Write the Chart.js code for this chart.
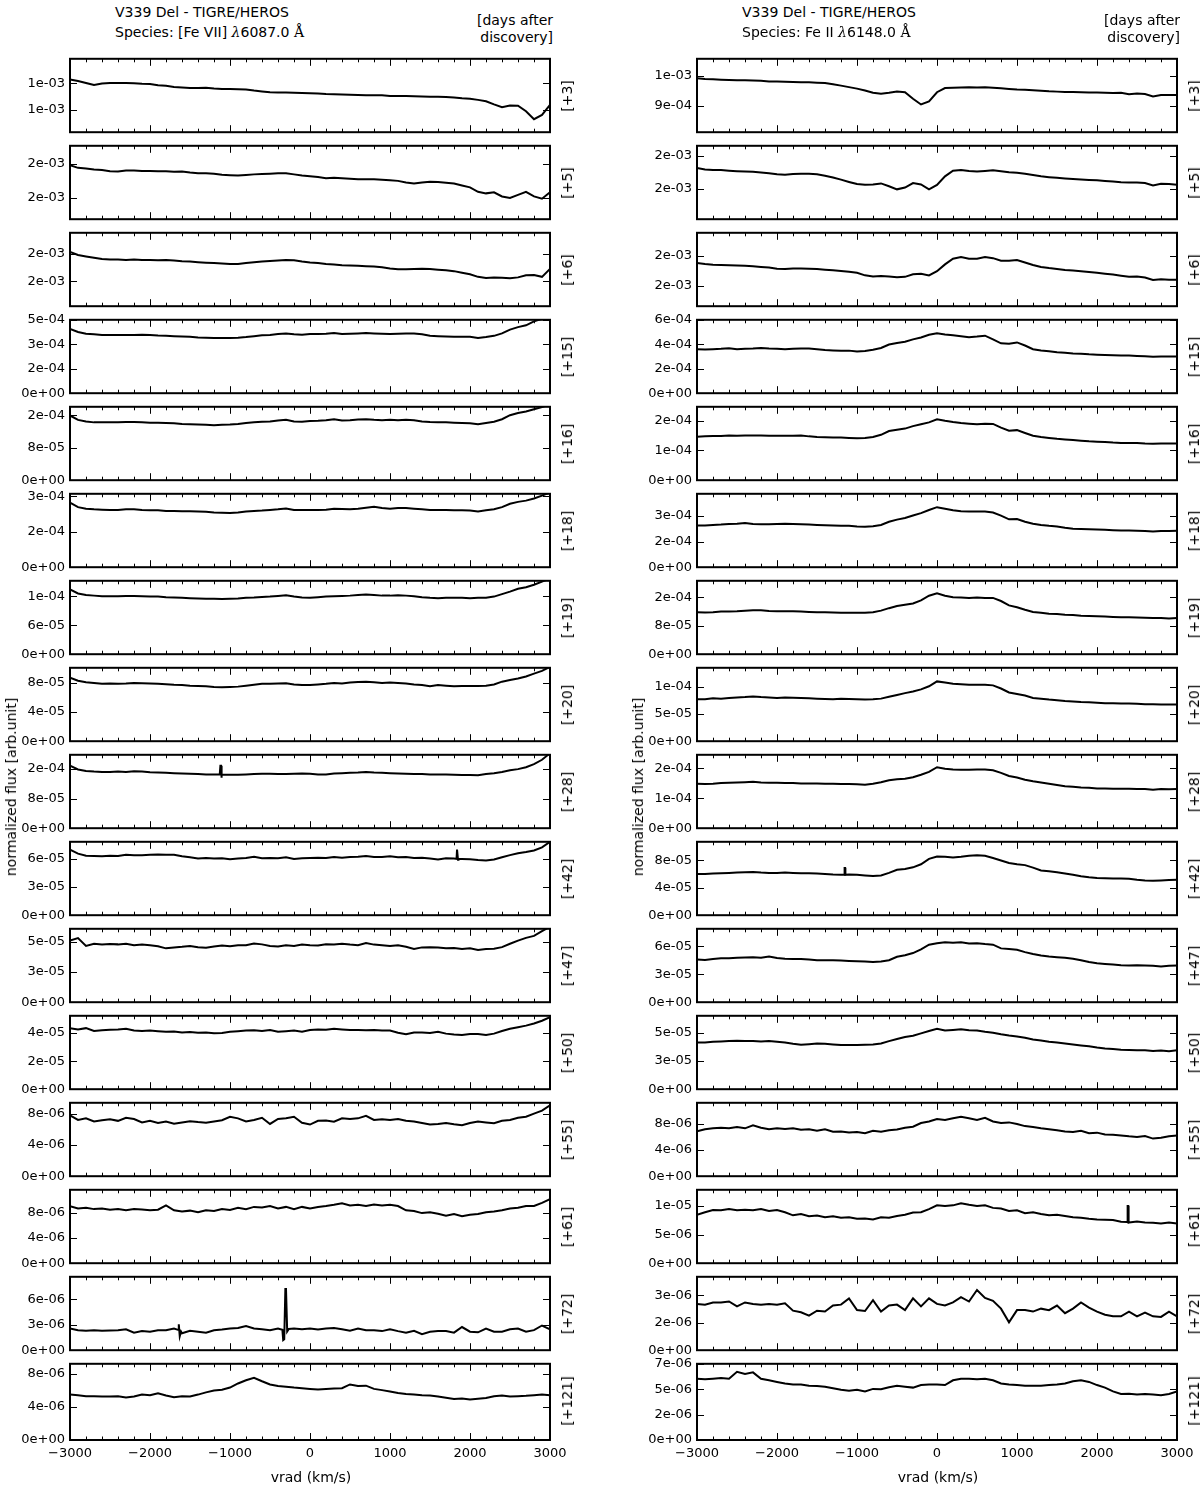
<!DOCTYPE html>
<html>
<head>
<meta charset="utf-8">
<title>V339 Del - TIGRE/HEROS</title>
<script src="https://cdn.jsdelivr.net/npm/chart.js@4/dist/chart.umd.min.js"></script>
<style>
  body { margin: 0; background: #fff; }
  #page { position: relative; width: 1200px; height: 1485px; overflow: hidden; font-family: "DejaVu Sans", sans-serif; color: #000; }
  #page canvas { position: absolute; }
  .txt { position: absolute; font-size: 14px; line-height: 16px; white-space: nowrap; }
  .rot { position: absolute; font-size: 14px; line-height: 16px; white-space: nowrap; transform: translate(-50%, -50%) rotate(-90deg); }
  .mid { position: absolute; font-size: 14px; line-height: 16px; white-space: nowrap; transform: translate(-50%, -50%); }
  .math { font-family: "DejaVu Serif", serif; }
</style>
</head>
<body>
<div id="page"></div>
<script>
// ---- data (flux in the unit of each panel's tick labels) ----
const vrad = [-3000,-2900,-2800,-2700,-2600,-2500,-2400,-2300,-2200,-2100,-2000,-1900,-1800,-1700,-1600,-1500,-1400,-1300,-1200,-1100,
  -1000,-900,-800,-700,-600,-500,-400,-300,-200,-100,0,100,200,300,400,500,600,700,800,900,
  1000,1100,1200,1300,1400,1500,1600,1700,1800,1900,2000,2100,2200,2300,2400,2500,2600,2700,2800,2900,3000];
const majorX = [-3000,-2000,-1000,0,1000,2000,3000];
const minorX = [-2800,-2600,-2400,-2200,-1800,-1600,-1400,-1200,-800,-600,-400,-200,200,400,600,800,1200,1400,1600,1800,2200,2400,2600,2800];
const days = ['+3','+5','+6','+15','+16','+18','+19','+20','+28','+42','+47','+50','+55','+61','+72','+121'];

// [Fe VII] 6087
const fe7_d3 = [1.115,1.109,1.102,1.094,1.1,1.102,1.102,1.102,1.101,1.099,1.098,1.093,1.091,1.087,1.085,1.083,1.083,1.084,1.081,1.079,1.079,1.078,1.077,1.073,1.07,1.067,1.066,1.066,1.065,1.064,1.063,
  1.062,1.06,1.059,1.058,1.057,1.056,1.055,1.055,1.055,1.053,1.053,1.053,1.052,1.051,1.05,1.05,1.049,1.047,1.044,1.042,1.038,1.033,1.021,1.01,1.017,1.016,0.995,0.965,0.981,1.019];
const fe7_d5 = [1.991,1.976,1.973,1.967,1.964,1.956,1.955,1.96,1.96,1.958,1.958,1.956,1.956,1.953,1.955,1.949,1.945,1.944,1.942,1.936,1.933,1.931,1.935,1.938,1.94,1.942,1.944,1.945,1.938,1.931,1.927,
  1.922,1.916,1.918,1.915,1.913,1.909,1.909,1.909,1.907,1.904,1.9,1.891,1.885,1.891,1.895,1.893,1.889,1.884,1.873,1.862,1.836,1.827,1.833,1.809,1.8,1.818,1.836,1.809,1.796,1.833];
const fe7_d6 = [2.016,1.993,1.982,1.972,1.963,1.959,1.959,1.956,1.959,1.956,1.956,1.954,1.956,1.952,1.947,1.945,1.94,1.936,1.933,1.931,
  1.926,1.926,1.933,1.94,1.945,1.949,1.952,1.956,1.954,1.945,1.938,1.933,1.926,1.922,1.917,1.915,1.913,1.91,1.908,1.903,
  1.894,1.887,1.887,1.89,1.892,1.89,1.885,1.88,1.874,1.862,1.851,1.832,1.823,1.828,1.825,1.821,1.828,1.844,1.846,1.832,1.89];
const fe7_d15 = [4.2,4.0,3.89,3.85,3.81,3.81,3.81,3.81,3.81,3.83,3.81,3.77,3.75,3.73,3.71,3.69,3.65,3.63,3.61,3.61,3.61,3.63,3.67,3.73,3.79,3.81,3.87,3.91,3.85,3.83,3.87,
  3.87,3.89,3.94,3.87,3.89,3.91,3.94,3.91,3.89,3.87,3.89,3.91,3.91,3.85,3.75,3.73,3.71,3.69,3.69,3.69,3.61,3.67,3.75,3.91,4.16,4.32,4.44,4.7,4.86,5.0];
const fe7_d16 = [16.0,14.92,14.53,14.3,14.3,14.3,14.3,14.38,14.38,14.3,14.23,14.23,14.15,14.07,13.92,13.84,13.77,13.69,13.61,13.69,13.77,13.92,14.15,14.3,14.46,14.53,14.76,14.92,14.53,14.46,14.61,
  14.69,14.84,15.07,14.76,14.84,15.0,15.07,14.92,14.84,14.92,14.84,14.92,14.84,14.53,14.38,14.3,14.3,14.23,14.15,14.07,13.84,14.15,14.46,15.07,16.07,16.61,17.0,17.53,18.07,18.76];
const fe7_d18 = [27.37,25.4,24.74,24.48,24.35,24.21,24.21,24.48,24.48,24.21,24.08,24.08,23.82,23.82,23.69,23.69,23.56,23.42,23.16,23.03,22.9,23.16,23.56,23.82,23.95,24.21,24.48,24.87,24.21,24.21,24.21,
  24.21,24.35,24.74,24.61,24.48,24.74,25.14,25.53,25.0,24.74,25.0,25.0,24.74,24.48,24.21,24.21,24.21,24.08,24.08,23.95,23.56,24.08,24.48,25.4,26.85,27.64,28.16,29.08,30.27,31.58];
const fe7_d19 = [13.42,12.58,12.26,12.13,12.0,12.0,12.0,12.06,12.06,12.0,11.93,11.93,11.8,11.74,11.67,11.61,11.55,11.48,11.48,11.42,11.48,11.55,11.67,11.74,11.87,11.93,12.06,12.19,11.93,11.74,11.67,
  11.8,11.93,12.0,12.06,12.13,12.26,12.38,12.26,12.13,12.13,12.19,12.13,12.0,11.8,11.67,11.61,11.67,11.67,11.67,11.61,11.67,11.67,11.93,12.45,12.96,13.55,13.87,14.38,15.03,15.67];
const fe7_d20 = [8.67,8.25,8.04,7.96,7.83,7.87,7.83,7.87,7.96,7.91,7.87,7.83,7.79,7.71,7.66,7.58,7.54,7.49,7.41,7.37,7.41,7.45,7.58,7.71,7.83,7.83,7.87,7.91,7.75,7.66,7.66,
  7.75,7.83,7.96,7.87,8.0,8.08,8.13,8.04,7.96,8.0,7.96,7.87,7.75,7.66,7.49,7.66,7.58,7.49,7.54,7.54,7.54,7.58,7.75,8.13,8.34,8.55,8.84,9.22,9.6,10.15];
const fe7_d28 = [16.84,15.84,15.42,15.25,15.17,15.17,15.25,15.17,15.34,15.25,15.08,15.0,14.92,14.83,14.75,14.67,14.58,14.5,14.5,14.5,14.41,14.41,14.5,14.58,14.67,14.67,14.58,14.58,14.67,14.75,14.67,
  14.5,14.5,14.75,14.83,14.92,15.0,15.17,15.0,14.92,14.83,14.75,14.67,14.58,14.58,14.5,14.5,14.5,14.41,14.33,14.33,14.25,14.58,14.83,15.17,15.59,15.92,16.42,17.26,18.44,20.2];
const fe7_d42 = [6.99,6.56,6.33,6.3,6.27,6.33,6.3,6.43,6.4,6.4,6.43,6.46,6.43,6.43,6.27,6.17,6.03,6.1,6.03,6.07,5.97,6.03,6.1,6.23,6.07,6.1,6.07,6.17,6.0,6.07,6.1,
  6.13,6.1,6.2,6.13,6.2,6.23,6.3,6.2,6.2,6.27,6.17,6.2,6.1,6.13,6.03,5.93,6.07,6.03,6.0,5.97,5.87,5.83,5.93,6.17,6.4,6.6,6.73,6.9,7.23,7.82];
const fe7_d47 = [5.1,5.31,4.66,4.84,4.77,4.82,4.79,4.84,4.72,4.77,4.72,4.64,4.46,4.54,4.59,4.66,4.56,4.51,4.61,4.69,4.64,4.72,4.72,4.87,4.79,4.66,4.61,4.72,4.66,4.77,4.72,
  4.69,4.79,4.77,4.84,4.77,4.72,4.9,4.77,4.72,4.66,4.72,4.59,4.41,4.54,4.56,4.54,4.46,4.48,4.41,4.46,4.33,4.41,4.43,4.56,4.84,5.1,5.33,5.49,5.88,6.26];
const fe7_d50 = [4.35,4.26,4.35,4.15,4.2,4.24,4.26,4.31,4.18,4.15,4.18,4.13,4.09,4.11,4.04,4.07,4.02,4.04,3.98,4.0,4.09,4.13,4.18,4.2,4.15,4.22,4.09,4.13,4.18,4.09,4.22,
  4.26,4.24,4.31,4.26,4.22,4.22,4.2,4.22,4.18,4.18,4.02,3.91,4.04,4.04,4.0,4.09,3.96,3.89,3.87,3.93,3.93,3.87,3.96,4.15,4.31,4.42,4.53,4.68,4.88,5.14];
const fe7_d55 = [7.84,7.24,7.44,7.04,7.2,7.32,7.12,7.52,7.36,6.92,7.12,6.84,7.04,6.76,6.92,7.08,6.96,6.88,7.04,7.2,7.64,7.44,7.04,7.24,7.52,6.72,7.36,7.44,7.64,6.88,6.64,
  7.12,7.16,7.0,7.44,7.36,7.44,7.76,7.24,7.32,7.24,7.36,7.12,7.04,6.84,6.64,6.72,6.84,6.68,6.56,6.84,7.04,6.92,6.8,7.12,7.24,7.52,7.64,8.04,8.44,9.12];
const fe7_d61 = [8.99,8.64,8.74,8.54,8.64,8.45,8.54,8.35,8.54,8.49,8.35,8.45,9.13,8.35,8.15,8.3,8.05,8.35,8.25,8.54,8.4,8.74,8.54,8.89,8.79,9.03,8.64,8.89,8.54,8.89,8.64,
  8.89,9.03,9.23,9.48,9.13,9.23,9.03,9.28,9.13,9.23,9.03,8.35,8.25,7.91,8.05,7.81,7.51,7.76,7.41,7.66,7.76,8.05,8.15,8.35,8.64,8.74,9.03,9.03,9.53,10.11];
const fe7_d72 = [2.55,2.36,2.29,2.36,2.29,2.33,2.36,2.47,2.07,2.25,2.18,2.36,2.36,2.55,2.0,2.29,2.18,2.07,2.36,2.44,2.55,2.62,2.84,2.55,2.47,2.36,2.55,7.2,2.55,2.47,2.55,
  2.44,2.55,2.62,2.47,2.29,2.55,2.36,2.36,2.25,2.47,2.25,2.07,2.29,1.89,2.18,2.25,2.25,2.07,2.73,2.18,2.11,2.55,2.18,2.18,2.47,2.55,2.18,2.36,2.91,2.47];
const fe7_d121 = [5.5,5.42,5.31,5.31,5.27,5.27,5.31,5.15,5.27,5.5,5.42,5.65,5.38,5.19,5.31,5.27,5.5,5.77,6.0,6.08,6.35,6.85,7.23,7.54,7.12,6.73,6.54,6.46,6.35,6.27,6.19,
  6.12,6.19,6.23,6.27,6.73,6.54,6.58,6.19,6.04,5.88,5.69,5.58,5.5,5.42,5.38,5.27,5.12,4.96,5.04,4.92,5.0,5.08,5.31,5.38,5.27,5.31,5.35,5.42,5.5,5.42];

// narrow spikes (vrad, flux)
const fe7_d28_spike = [[-1128,14.5],[-1120,16.8],[-1112,16.8],[-1108,13.6],[-1102,14.5]];
const fe7_d42_spike = [[1832,6.0],[1838,7.0],[1846,7.0],[1850,5.9],[1856,6.0]];
const fe7_d72_spike = [[-1650,2.4],[-1640,3.05],[-1628,1.65],[-1612,2.2],
  [-345,2.4],[-335,1.2],[-322,1.3],[-308,7.2],[-292,7.2],[-285,2.2],[-265,2.5]];

// Fe II 6148
const fe2_d3 = [0.993,0.99,0.989,0.988,0.987,0.986,0.986,0.985,0.984,0.982,0.982,0.981,0.98,0.979,0.979,0.978,0.977,0.973,0.968,0.963,0.958,0.952,0.944,0.941,0.944,0.948,0.946,0.924,0.905,0.915,0.946,
  0.96,0.961,0.962,0.963,0.962,0.963,0.961,0.959,0.957,0.955,0.954,0.953,0.951,0.949,0.948,0.947,0.947,0.946,0.945,0.945,0.944,0.943,0.944,0.939,0.942,0.94,0.932,0.937,0.937,0.937];
const fe2_d5 = [1.928,1.919,1.915,1.915,1.911,1.908,1.906,1.904,1.9,1.896,1.889,1.887,1.891,1.892,1.892,1.889,1.881,1.87,1.857,1.843,1.83,1.826,1.828,1.834,1.817,1.798,1.809,1.836,1.828,1.798,1.825,
  1.877,1.911,1.915,1.909,1.906,1.909,1.913,1.908,1.902,1.898,1.892,1.885,1.877,1.872,1.868,1.864,1.86,1.857,1.855,1.853,1.849,1.845,1.841,1.84,1.84,1.836,1.821,1.832,1.83,1.826];
const fe2_d6 = [1.952,1.945,1.941,1.939,1.937,1.935,1.933,1.931,1.926,1.922,1.914,1.912,1.916,1.916,1.914,1.912,1.907,1.903,1.899,1.893,1.886,1.869,1.861,1.865,1.861,1.857,1.859,1.876,1.88,1.869,1.897,
  1.943,1.981,1.992,1.981,1.981,1.992,1.985,1.968,1.968,1.973,1.956,1.939,1.926,1.918,1.912,1.905,1.901,1.897,1.891,1.886,1.88,1.874,1.867,1.859,1.861,1.855,1.838,1.842,1.84,1.84];
const fe2_d15 = [3.6,3.58,3.6,3.63,3.68,3.6,3.63,3.65,3.7,3.65,3.63,3.6,3.63,3.65,3.65,3.6,3.53,3.5,3.48,3.48,3.4,3.45,3.55,3.7,3.98,4.1,4.2,4.4,4.55,4.78,4.9,
  4.8,4.73,4.65,4.58,4.63,4.7,4.4,4.08,4.05,4.15,3.9,3.6,3.5,3.43,3.35,3.3,3.25,3.23,3.18,3.15,3.13,3.1,3.08,3.08,3.05,3.03,2.98,3.0,3.0,3.0];
const fe2_d16 = [1.459,1.469,1.48,1.48,1.5,1.49,1.5,1.5,1.5,1.49,1.49,1.49,1.49,1.5,1.469,1.448,1.438,1.427,1.427,1.417,1.407,1.417,1.448,1.521,1.646,1.688,1.73,1.813,1.876,1.938,2.042,
  1.99,1.949,1.917,1.896,1.876,1.896,1.886,1.761,1.657,1.678,1.584,1.49,1.448,1.417,1.386,1.365,1.344,1.323,1.303,1.292,1.282,1.261,1.25,1.25,1.25,1.23,1.219,1.23,1.23,1.23];
const fe2_d18 = [2.436,2.436,2.472,2.491,2.527,2.545,2.582,2.527,2.509,2.509,2.527,2.545,2.527,2.509,2.491,2.472,2.454,2.436,2.418,2.418,2.382,2.363,2.4,2.472,2.654,2.782,2.872,3.018,3.163,3.345,3.509,
  3.418,3.327,3.272,3.254,3.254,3.254,3.2,3.018,2.8,2.818,2.654,2.545,2.472,2.418,2.382,2.309,2.254,2.236,2.218,2.2,2.182,2.163,2.145,2.145,2.127,2.109,2.091,2.109,2.109,2.127];
const fe2_d19 = [11.8,11.72,11.8,11.98,11.98,12.07,12.24,12.33,12.33,12.15,12.07,12.07,12.07,11.98,11.89,11.8,11.8,11.72,11.63,11.63,11.63,11.63,11.8,12.24,12.94,13.55,13.9,14.25,15.13,16.44,17.14,
  16.44,16.0,15.91,15.82,15.91,15.82,15.82,14.95,13.73,13.2,12.5,11.89,11.63,11.37,11.28,11.1,11.02,10.84,10.75,10.67,10.58,10.49,10.4,10.4,10.32,10.23,10.14,10.14,10.05,10.14];
const fe2_d20 = [7.68,7.68,7.85,7.8,7.91,8.02,8.08,8.19,8.08,8.02,7.91,8.02,7.97,7.91,7.85,7.8,7.74,7.68,7.8,7.74,7.68,7.63,7.68,7.8,8.14,8.48,8.81,9.1,9.49,10.06,10.96,
  10.74,10.51,10.45,10.34,10.34,10.34,10.23,9.66,8.93,8.64,8.36,7.91,7.8,7.63,7.51,7.35,7.29,7.18,7.12,7.06,6.95,6.95,6.89,6.89,6.84,6.78,6.78,6.72,6.72,6.72];
const fe2_d28 = [1.481,1.471,1.481,1.502,1.513,1.523,1.533,1.544,1.523,1.513,1.513,1.502,1.502,1.492,1.492,1.492,1.481,1.481,1.471,1.471,1.461,1.45,1.481,1.533,1.595,1.627,1.647,1.699,1.782,1.875,2.031,
  1.979,1.958,1.948,1.948,1.958,1.958,1.927,1.844,1.74,1.689,1.616,1.564,1.523,1.481,1.44,1.399,1.378,1.357,1.347,1.326,1.326,1.316,1.316,1.316,1.305,1.305,1.285,1.305,1.295,1.305];
const fe2_d42 = [6.04,6.04,6.09,6.14,6.18,6.23,6.27,6.32,6.23,6.18,6.18,6.23,6.18,6.14,6.14,6.09,6.04,5.95,5.91,5.95,5.91,5.82,5.73,5.82,6.18,6.64,6.77,7.0,7.45,8.23,8.59,
  8.55,8.45,8.55,8.68,8.77,8.68,8.36,8.0,7.64,7.45,7.32,6.95,6.54,6.41,6.27,6.09,5.91,5.68,5.54,5.45,5.41,5.36,5.36,5.32,5.18,5.09,5.05,5.09,5.14,5.18];
const fe2_d47 = [4.57,4.53,4.63,4.7,4.7,4.77,4.8,4.83,4.77,4.9,4.73,4.67,4.63,4.63,4.57,4.5,4.5,4.5,4.47,4.43,4.4,4.37,4.3,4.37,4.5,4.87,5.03,5.27,5.67,6.17,6.33,
  6.43,6.37,6.43,6.3,6.33,6.23,6.17,5.77,5.7,5.63,5.37,5.17,5.0,4.9,4.83,4.77,4.67,4.5,4.3,4.17,4.1,4.03,3.97,3.93,3.97,3.93,3.9,3.83,3.9,3.93];
const fe2_d50 = [4.13,4.13,4.21,4.23,4.26,4.29,4.26,4.26,4.23,4.26,4.21,4.13,4.02,3.93,3.99,4.04,4.02,3.96,3.91,3.91,3.91,3.93,3.96,4.04,4.26,4.45,4.62,4.73,4.94,5.16,5.35,
  5.19,5.25,5.3,5.22,5.19,5.08,5.0,4.86,4.75,4.67,4.56,4.4,4.32,4.21,4.13,4.04,3.96,3.88,3.8,3.69,3.61,3.55,3.5,3.47,3.44,3.44,3.39,3.42,3.36,3.44];
const fe2_d55 = [6.86,7.19,7.33,7.43,7.33,7.52,7.33,7.81,7.43,7.19,7.33,7.24,7.33,7.1,7.19,6.95,7.19,6.81,6.86,6.71,6.76,6.57,6.95,6.81,7.05,7.14,7.43,7.57,8.14,8.38,8.76,
  8.62,8.86,9.1,8.86,8.62,8.95,8.38,8.14,8.24,8.0,7.67,7.52,7.33,7.19,7.05,6.86,6.76,6.95,6.57,6.67,6.38,6.33,6.24,6.1,6.0,6.14,5.76,5.9,6.1,6.24];
const fe2_d61 = [8.48,8.91,9.29,9.24,9.46,9.24,9.35,9.24,9.46,9.13,9.29,8.91,8.37,8.59,8.21,8.32,8.04,8.21,7.94,8.04,7.77,7.83,7.66,8.04,7.94,8.26,8.48,8.86,8.91,9.46,10.11,
  10.0,10.11,10.49,10.22,10.0,10.11,9.67,9.57,9.13,9.24,8.75,8.91,8.59,8.37,8.48,8.26,8.04,7.94,7.77,7.66,7.61,7.55,7.23,7.12,7.28,7.12,7.07,6.96,7.12,6.96];
const fe2_d72 = [2.53,2.49,2.61,2.61,2.66,2.39,2.61,2.53,2.48,2.53,2.49,2.56,2.16,2.07,1.89,2.16,2.11,2.44,2.49,2.83,2.19,2.14,2.73,2.11,2.44,2.49,2.19,2.83,2.39,2.83,2.53,
  2.44,2.61,2.9,2.66,3.29,2.86,2.7,2.27,1.52,2.19,2.19,2.11,2.27,2.19,2.44,2.02,2.27,2.61,2.33,2.11,1.94,1.85,1.85,2.11,1.85,2.06,1.85,1.82,2.11,1.85];
const fe2_d121 = [5.79,5.73,5.79,5.85,5.79,6.45,6.24,6.39,5.79,5.64,5.49,5.34,5.25,5.25,5.13,5.1,5.04,4.89,4.74,4.65,4.74,4.59,4.83,4.8,4.98,5.13,5.04,4.95,5.19,5.25,5.25,
  5.19,5.64,5.79,5.79,5.73,5.79,5.64,5.34,5.25,5.19,5.13,5.13,5.13,5.19,5.25,5.34,5.55,5.64,5.49,5.19,4.95,4.59,4.35,4.38,4.29,4.35,4.29,4.23,4.35,4.59];

const fe2_d42_spike = [[-1160,5.93],[-1155,6.9],[-1148,6.9],[-1145,5.9]];
const fe2_d61_spike = [[2378,7.2],[2383,10.0],[2391,10.0],[2395,7.1]];

// y axes per panel
const fe7YMin = [0.916,1.676,1.616,0,0,0,0,0,0,0,0,0,0,0,0,0];
const fe7YMax = [1.193,2.105,2.156,4.8,18.15,31.05,15.2,10.02,19.78,7.82,6.08,5.23,9.44,11.59,8.65,9.23];
const fe7YTicks = [[1.0,1.1],[1.8,2.0],[1.8,2.0],[0,1.6,3.2,4.8],[0,8,16],[0,15,30],[0,6,12],[0,4,8],[0,8,16],[0,3,6],[0,2.5,5],[0,2,4],[0,4,8],[0,4,8],[0,3,6],[0,4,8]];
const fe7YLabels = [['1e-03','1e-03'],['2e-03','2e-03'],['2e-03','2e-03'],['0e+00','2e-04','3e-04','5e-04'],['0e+00','8e-05','2e-04'],['0e+00','2e-04','3e-04'],
  ['0e+00','6e-05','1e-04'],['0e+00','4e-05','8e-05'],['0e+00','8e-05','2e-04'],['0e+00','3e-05','6e-05'],['0e+00','3e-05','5e-05'],['0e+00','2e-05','4e-05'],
  ['0e+00','4e-06','8e-06'],['0e+00','4e-06','8e-06'],['0e+00','3e-06','6e-06'],['0e+00','4e-06','8e-06']];

const fe2YMin = [0.8124,1.617,1.661,0,0,0,0,0,0,0,0,0,0,0,0,0];
const fe2YMax = [1.0577,2.062,2.156,6.0,2.46,4.29,20.63,13.45,2.445,10.73,7.87,6.5,11.24,12.83,4.01,7.2];
const fe2YTicks = [[0.9,1.0],[1.8,2.0],[1.8,2.0],[0,2,4,6],[0,1,2],[0,1.5,3],[0,8,16],[0,5,10],[0,1,2],[0,4,8],[0,3,6],[0,2.5,5],[0,4,8],[0,5,10],[0,1.5,3],[0,2.4,4.8,7.2]];
const fe2YLabels = [['9e-04','1e-03'],['2e-03','2e-03'],['2e-03','2e-03'],['0e+00','2e-04','4e-04','6e-04'],['0e+00','1e-04','2e-04'],['0e+00','2e-04','3e-04'],
  ['0e+00','8e-05','2e-04'],['0e+00','5e-05','1e-04'],['0e+00','1e-04','2e-04'],['0e+00','4e-05','8e-05'],['0e+00','3e-05','6e-05'],['0e+00','3e-05','5e-05'],
  ['0e+00','4e-06','8e-06'],['0e+00','5e-06','1e-05'],['0e+00','2e-06','3e-06'],['0e+00','2e-06','5e-06','7e-06']];

const fe7Series = [fe7_d3,fe7_d5,fe7_d6,fe7_d15,fe7_d16,fe7_d18,fe7_d19,fe7_d20,fe7_d28,fe7_d42,fe7_d47,fe7_d50,fe7_d55,fe7_d61,fe7_d72,fe7_d121];
const fe2Series = [fe2_d3,fe2_d5,fe2_d6,fe2_d15,fe2_d16,fe2_d18,fe2_d19,fe2_d20,fe2_d28,fe2_d42,fe2_d47,fe2_d50,fe2_d55,fe2_d61,fe2_d72,fe2_d121];
const fe7Spikes = {8: fe7_d28_spike, 9: fe7_d42_spike, 14: fe7_d72_spike};
const fe2Spikes = {9: fe2_d42_spike, 13: fe2_d61_spike};

// ---- layout ----
const TOP0 = 56, PITCH = 87, PANEL_H = 79, PLOT_W = 480, AXIS_W = 70, PAD_R = 25;
const columns = [
  { left: 70, series: fe7Series, spikes: fe7Spikes, yMin: fe7YMin, yMax: fe7YMax, yTicks: fe7YTicks, yLabels: fe7YLabels,
    title: 'V339 Del - TIGRE/HEROS', species: 'Species: [Fe VII] <span class="math"><i>λ</i></span>6087.0 <span class="math">Å</span>',
    titleX: 115, daysRight: 553, sideX: 567, ylabelX: 10.5, xlabelX: 311 },
  { left: 697, series: fe2Series, spikes: fe2Spikes, yMin: fe2YMin, yMax: fe2YMax, yTicks: fe2YTicks, yLabels: fe2YLabels,
    title: 'V339 Del - TIGRE/HEROS', species: 'Species: Fe II <span class="math"><i>λ</i></span>6148.0 <span class="math">Å</span>',
    titleX: 742, daysRight: 1180, sideX: 1194, ylabelX: 638, xlabelX: 938 }
];

Chart.defaults.font.family = '"DejaVu Sans", sans-serif';
Chart.defaults.color = '#000';

const page = document.getElementById('page');

function addDiv(cls, html, style) {
  const d = document.createElement('div');
  d.className = cls;
  d.innerHTML = html;
  Object.assign(d.style, style);
  page.appendChild(d);
}

function buildPoints(values, spikes) {
  const pts = vrad.map((v, i) => ({ x: v, y: values[i] }));
  (spikes || []).forEach(p => pts.push({ x: p[0], y: p[1] }));
  pts.sort((a, b) => a.x - b.x);
  return pts;
}

// frame + inward ticks on all four sides
const frameTicks = {
  id: 'frameTicks',
  afterDatasetsDraw(chart) {
    const { ctx, chartArea: a } = chart;
    const x = chart.scales.x, y = chart.scales.y;
    ctx.save();
    ctx.strokeStyle = '#000';
    ctx.lineWidth = 1;
    ctx.beginPath();
    const xTick = (v, len) => {
      const px = Math.round(x.getPixelForValue(v)) + 0.5;
      ctx.moveTo(px, a.top); ctx.lineTo(px, a.top + len);
      ctx.moveTo(px, a.bottom); ctx.lineTo(px, a.bottom - len);
    };
    minorX.forEach(v => xTick(v, 3.5));
    majorX.forEach(v => xTick(v, 7));
    y.ticks.forEach(t => {
      const py = Math.round(y.getPixelForValue(t.value)) + 0.5;
      ctx.moveTo(a.left, py); ctx.lineTo(a.left + 7, py);
      ctx.moveTo(a.right, py); ctx.lineTo(a.right - 7, py);
    });
    ctx.stroke();
    ctx.lineWidth = 2;
    ctx.strokeRect(a.left, a.top, a.right - a.left, a.bottom - a.top);
    ctx.restore();
  }
};

function makePanel(col, row) {
  const last = row === days.length - 1;
  const top = TOP0 + row * PITCH;
  const padTop = 10, padBottom = last ? 0 : 10, xAxisH = last ? 28 : 0;
  const canvas = document.createElement('canvas');
  const w = AXIS_W + PLOT_W + PAD_R, h = padTop + PANEL_H + padBottom + xAxisH;
  canvas.width = w; canvas.height = h;
  canvas.style.left = (col.left - AXIS_W) + 'px';
  canvas.style.top = (top - padTop) + 'px';
  page.appendChild(canvas);

  const ticks = col.yTicks[row], labels = col.yLabels[row];
  new Chart(canvas, {
    type: 'line',
    data: {
      datasets: [{
        data: buildPoints(col.series[row], col.spikes[row]),
        borderColor: '#000',
        borderWidth: 2,
        borderJoinStyle: 'miter',
        pointRadius: 0,
        fill: false,
        tension: 0,
        clip: 0
      }]
    },
    options: {
      responsive: false,
      animation: false,
      devicePixelRatio: 1,
      events: [],
      layout: { padding: { left: 0, right: PAD_R, top: padTop, bottom: padBottom } },
      plugins: { legend: { display: false }, tooltip: { enabled: false } },
      scales: {
        x: {
          type: 'linear',
          display: last,
          min: -3000,
          max: 3000,
          afterBuildTicks: s => { s.ticks = majorX.map(v => ({ value: v })); },
          afterFit: s => { if (last) s.height = xAxisH; },
          grid: { display: false, drawTicks: false },
          border: { display: false },
          ticks: {
            padding: 6,
            maxRotation: 0,
            autoSkip: false,
            font: { size: 13 },
            callback: v => String(v).replace('-', '\u2212')
          }
        },
        y: {
          type: 'linear',
          min: col.yMin[row],
          max: col.yMax[row],
          afterBuildTicks: s => { s.ticks = ticks.map(v => ({ value: v })); },
          afterFit: s => { s.width = AXIS_W; },
          grid: { display: false, drawTicks: false },
          border: { display: false },
          ticks: {
            padding: 5,
            autoSkip: false,
            font: { size: 13 },
            callback: (v, i) => labels[i]
          }
        }
      }
    },
    plugins: [frameTicks]
  });

  addDiv('rot', '[' + days[row] + ']', { left: col.sideX + 'px', top: (top + PANEL_H / 2) + 'px' });
}

columns.forEach(col => {
  days.forEach((d, row) => makePanel(col, row));
  addDiv('txt', col.title, { left: col.titleX + 'px', top: '4px' });
  addDiv('txt', col.species, { left: col.titleX + 'px', top: '24px' });
  addDiv('txt', '[days after', { right: (1200 - col.daysRight) + 'px', top: '12px' });
  addDiv('txt', 'discovery]', { right: (1200 - col.daysRight) + 'px', top: '29px' });
  addDiv('rot', 'normalized flux [arb.unit]', { left: col.ylabelX + 'px', top: '787px' });
  addDiv('mid', 'vrad (km/s)', { left: col.xlabelX + 'px', top: '1477px' });
});
</script>
</body>
</html>
